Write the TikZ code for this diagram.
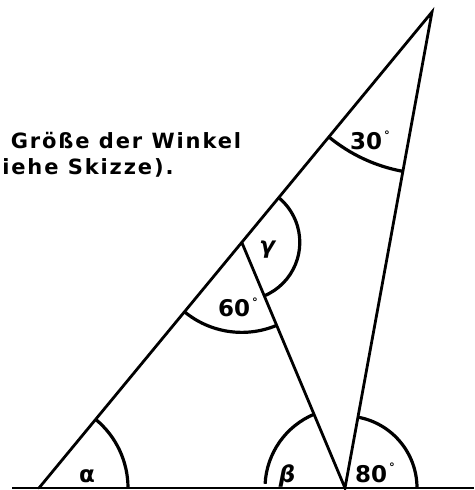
\documentclass[tikz,border=0pt]{standalone}
\usepackage{fontspec}
\usepackage{graphicx}
\setmainfont{DejaVu Sans}
\usetikzlibrary{calc}
\newcommand{\grad}{\kern2pt\raisebox{0.45em}{\scalebox{0.5}{°}}}

\begin{document}
\begin{tikzpicture}[x=1pt,y=1pt,
    seg/.style={line width=2.8pt,line cap=round},
    ground/.style={line width=1.8pt},
    bow/.style={line width=3.2pt},
    lbl/.style={inner sep=0pt,anchor=base,font=\fontsize{23}{23}\selectfont\bfseries},
    txt/.style={inner sep=0pt,anchor=base west,
      font=\fontsize{21}{26}\selectfont\bfseries\addfontfeature{LetterSpace=9}}]
\useasboundingbox (0,0) rectangle (474,490);
\coordinate (L) at (12,2);
\coordinate (R) at (474,2);
\coordinate (A) at (39,2);
\coordinate (B) at (345,2);
\coordinate (C) at (432,478);
\coordinate (D) at ($(A)!0.516!(C)$);
\draw[ground] (L) -- (R);
\draw[seg] (A) -- (C) -- (B) -- (D);
% angle arcs
\draw[bow] ([shift={(0:89)}]A) arc[start angle=0,end angle=50.45,radius=89];
\draw[bow] ([shift={(112.6:80)}]B) arc[start angle=112.6,end angle=177,radius=80];
\draw[bow] ([shift={(0:72)}]B) arc[start angle=0,end angle=79.64,radius=72];
\draw[bow] ([shift={(230.45:90)}]D) arc[start angle=230.45,end angle=292.6,radius=90];
\draw[bow] ([shift={(-67.4:58)}]D) arc[start angle=-67.4,end angle=50.45,radius=58];
\draw[bow] ([shift={(230.45:162)}]C) arc[start angle=230.45,end angle=259.64,radius=162];
% labels
\node[lbl] (alpha) at (87,7) {α};
\node[lbl] (beta) at (287,7) {\textit{β}};
\node[lbl] (w80) at (375,8) {80\grad};
\node[lbl] (w60) at (238,173) {60\grad};
\node[lbl,anchor=center] (gamma) at (268,240) {\textit{γ}};
\node[lbl] (w30) at (370,340) {30\grad};
\node[txt] (line1) at (10.6,341) {Größe der Winkel};
\node[txt] (line2) at (-23.8,315) {(siehe Skizze).};
\end{tikzpicture}
\end{document}
